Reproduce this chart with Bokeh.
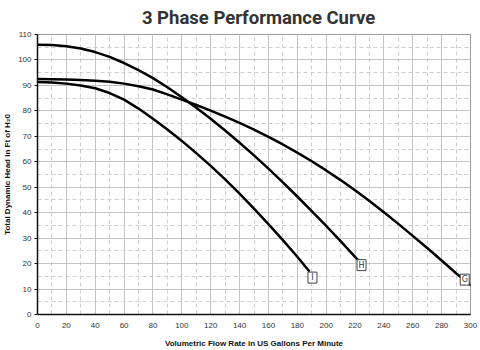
from bokeh.plotting import figure
from bokeh.layouts import column
from bokeh.models import ColumnDataSource, SingleIntervalTicker, Range1d
from bokeh.core.properties import value
from bokeh.embed import file_html
from bokeh.resources import INLINE

# Curve H (highest shut-off head)
h_flow = [0, 10, 20, 30, 40, 50, 60, 70, 80, 90, 100, 110, 120, 130, 140, 150, 160, 170, 180, 190, 200, 210, 220, 224]
h_head = [106.0, 105.9, 105.4, 104.5, 103.1, 101.2, 98.8, 96.0, 92.85, 89.25, 85.35, 81.25, 76.9, 72.3, 67.5, 62.5, 57.3, 51.9, 46.35, 40.65, 34.8, 28.8, 22.65, 20.4]

# Curve G (longest)
g_flow = [0, 10, 20, 30, 40, 50, 60, 70, 80, 90, 100, 110, 120, 130, 140, 150, 160, 170, 180, 190, 200, 210, 220, 230, 240, 250, 260, 270, 280, 290, 300]
g_head = [92.5, 92.45, 92.35, 92.15, 91.85, 91.4, 90.7, 89.7, 88.4, 86.5, 84.4, 82.3, 80.1, 77.75, 75.25, 72.6, 69.8, 66.8, 63.6, 60.2, 56.6, 52.8, 48.8, 44.6, 40.2, 35.6, 30.9, 26.1, 21.2, 16.2, 11.6]

# Curve I (shortest)
i_flow = [0, 10, 20, 30, 40, 50, 60, 70, 80, 90, 100, 110, 120, 130, 140, 150, 160, 170, 180, 188]
i_head = [91.3, 91.1, 90.7, 90.0, 88.9, 87.0, 84.4, 80.9, 76.9, 72.7, 68.2, 63.4, 58.4, 53.1, 47.5, 41.6, 35.5, 29.2, 22.7, 17.2]

label_text = ["I", "H", "G"]
label_flow = [190.5, 224.5, 296.0]
label_head = [14.5, 19.4, 13.7]

title_text = "3 Phase Performance Curve"
x_title = "Volumetric Flow Rate in US Gallons Per Minute"
y_title = "Total Dynamic Head in Ft of H\u20820"

# Title strip (a separate figure so the title can sit close to the top edge)
t = figure(width=480, height=29, output_backend="svg", toolbar_location=None,
           x_range=Range1d(0, 480), y_range=Range1d(0, 29),
           x_axis_type=None, y_axis_type=None, min_border=0)
t.grid.visible = False
t.outline_line_color = None
t.background_fill_color = "white"
t.border_fill_color = "white"
t.text(x=[245], y=[12], text=[title_text], text_align="center", text_baseline="alphabetic",
       text_font=value("Roboto"), text_font_style="bold", text_font_size="18.5px",
       text_color="#333333")

p = figure(width=480, height=321, output_backend="svg", toolbar_location=None,
           x_range=Range1d(0, 300), y_range=Range1d(0, 110),
           min_border_left=37, min_border_right=10, min_border_top=5, min_border_bottom=29)

p.xaxis.ticker = SingleIntervalTicker(interval=20, num_minor_ticks=2)
p.yaxis.ticker = SingleIntervalTicker(interval=10, num_minor_ticks=2)

for ax in (p.xaxis[0], p.yaxis[0]):
    ax.axis_line_color = "#111111"
    ax.axis_line_width = 1.5
    ax.major_tick_line_color = "#111111"
    ax.major_tick_in = 0
    ax.minor_tick_line_color = None
    ax.major_label_text_font = "Liberation Sans"
    ax.major_label_text_font_size = "8px"
    ax.major_label_text_color = "#333333"
    ax.axis_label_text_font = "Liberation Sans"
    ax.axis_label_text_font_size = "8px"
    ax.axis_label_text_font_style = "bold"
    ax.axis_label_text_color = "#111111"

p.xaxis.major_tick_out = 0
p.yaxis.major_tick_out = 3
p.xaxis.major_label_standoff = 4
p.yaxis.major_label_standoff = 2
p.xaxis.axis_label = x_title
p.yaxis.axis_label = y_title
p.xaxis.axis_label_standoff = 8
p.yaxis.axis_label_standoff = 3

for g in (p.xgrid[0], p.ygrid[0]):
    g.grid_line_color = "#c4c4c4"
    g.grid_line_width = 1
    g.minor_grid_line_color = "#cfcfcf"
    g.minor_grid_line_dash = "4 3"
    g.minor_grid_line_width = 1

p.outline_line_color = "#9a9a9a"
p.outline_line_width = 1
p.background_fill_color = "white"
p.border_fill_color = "white"

for fx, hy in ((h_flow, h_head), (g_flow, g_head), (i_flow, i_head)):
    p.line(fx, hy, line_color="black", line_width=2.5, line_join="round", line_cap="round")

src = ColumnDataSource(dict(x=label_flow, y=label_head, t=label_text))
p.rect(x="x", y="y", width=9, height=11, width_units="screen", height_units="screen",
       source=src, fill_color="white", line_color="#444444", line_width=1)
p.text(x="x", y="y", text="t", source=src, text_align="center", text_baseline="middle",
       text_font=value("DejaVu Sans"), text_font_size="8px", text_color="#333333")

layout = column(t, p, spacing=0)
open("out.html", "w").write(file_html(layout, INLINE))
